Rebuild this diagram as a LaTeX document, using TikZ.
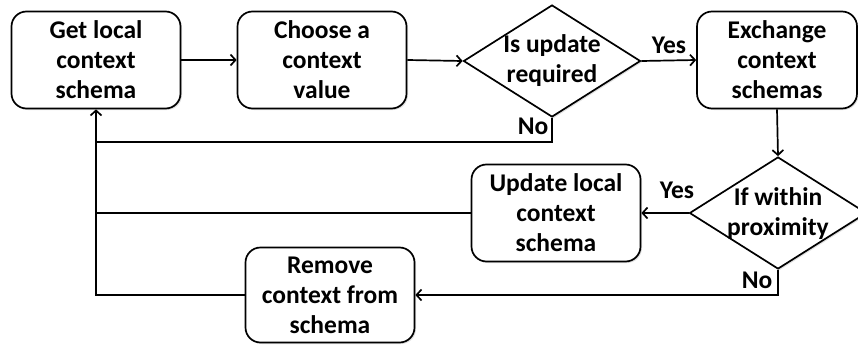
\documentclass[tikz,border=0pt]{standalone}
\usepackage{fontspec}
\setmainfont{Carlito}
\usetikzlibrary{shapes.geometric,arrows.meta,shadows}

\begin{document}
\begin{tikzpicture}[x=1pt,y=-1pt,
  font=\fontsize{25.5}{30}\selectfont\bfseries,
  line width=1.7pt,
  procbox/.style={draw, rounded corners=15pt, fill=white, align=center,
    minimum width=169pt, minimum height=97pt, inner sep=0pt,
    drop shadow={opacity=0.25, shadow xshift=1.5pt, shadow yshift=-1.5pt}},
  decision/.style={draw, diamond, fill=white, inner sep=0pt,
    minimum width=177pt, minimum height=112pt,
    drop shadow={opacity=0.25, shadow xshift=1.5pt, shadow yshift=-1.5pt}},
  dtext/.style={align=center, inner sep=0pt},
  branch/.style={inner sep=0pt},
  flow/.style={-{Straight Barb[length=5pt,width=11pt,line width=1.7pt]}},
]
\useasboundingbox (0,0) rectangle (858,345);

% process boxes
\node[procbox] (getschema) at (96,60)  {Get local\\context\\schema};
\node[procbox] (choose)    at (322,60) {Choose a\\context\\value};
\node[procbox, minimum width=160pt] (exchange) at (777,60) {Exchange\\context\\schemas};
\node[procbox] (updlocal)  at (556,213) {Update local\\context\\schema};
\node[procbox, minimum height=95pt] (remove) at (330,295) {Remove\\context from\\schema};

% decisions
\node[decision] (needupd) at (552,61) {};
\node[dtext] (needupdtxt) at (552,61) {Is update\\required};
\node[decision] (nearby) at (778,213) {};
\node[dtext] (nearbytxt) at (778,214) {If within\\proximity};

% branch labels
\node[branch] (yes1) at (669,45)  {Yes};
\node[branch] (no1)  at (533,126) {No};
\node[branch] (yes2) at (677,190) {Yes};
\node[branch] (no2)  at (757,280) {No};

\coordinate (nobend) at (96,142);
\coordinate (updjoin) at (96,213);

% connectors
\draw[flow] (getschema.east) -- (choose.west);
\draw[flow] (choose.east) -- (needupd.west);
\draw[flow] (needupd.east) -- (exchange.west);
\draw[flow] (needupd.south) |- (nobend) -- (getschema.south);
\draw[flow] (exchange.south) -- (nearby.north);
\draw[flow] (nearby.west) -- (updlocal.east);
\draw (updlocal.west) -- (updjoin);
\draw[flow] (nearby.south) |- (remove.east);
\draw (remove.west) -| (nobend);
\end{tikzpicture}
\end{document}
